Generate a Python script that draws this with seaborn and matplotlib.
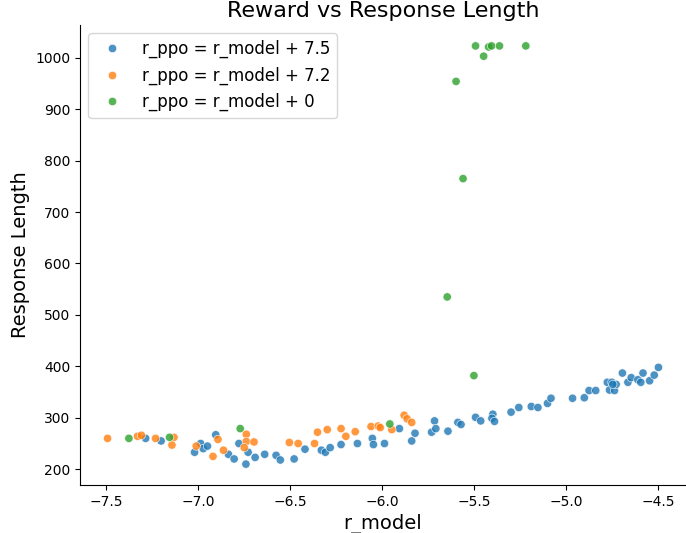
import numpy as np
import pandas as pd
import matplotlib
matplotlib.use("Agg")
import matplotlib.pyplot as plt
import seaborn as sns

labels = ["r_ppo = r_model + 7.5", "r_ppo = r_model + 7.2", "r_ppo = r_model + 0"]

# series: r_ppo = r_model + 7.5 (blue)
x_75 = [-7.286, -7.202, -7.020, -6.987, -6.973, -6.950, -6.905, -6.836, -6.805, -6.779,
        -6.729, -6.741, -6.691, -6.639, -6.577, -6.554, -6.479, -6.420, -6.331, -6.309,
        -6.283, -6.224, -6.135, -6.054, -6.048, -5.988, -5.907, -5.822, -5.840, -5.732,
        -5.716, -5.709, -5.643, -5.589, -5.572, -5.493, -5.465, -5.399, -5.404, -5.390,
        -5.300, -5.258, -5.190, -5.154, -5.102, -5.083, -4.966, -4.902, -4.876, -4.840,
        -4.777, -4.752, -4.765, -4.738, -4.729, -4.747, -4.695, -4.665, -4.647, -4.611,
        -4.595, -4.583, -4.547, -4.522, -4.499]
y_75 = [260, 255, 233, 250, 240, 245, 267, 229, 220, 250,
        233, 210, 223, 229, 227, 218, 220, 239, 237, 233,
        242, 248, 250, 260, 248, 250, 279, 270, 255, 272,
        294, 279, 274, 291, 287, 301, 294, 307, 299, 293,
        311, 320, 322, 320, 328, 338, 338, 339, 353, 353,
        369, 369, 354, 353, 365, 365, 387, 369, 378, 374,
        369, 387, 372, 383, 398]

# series: r_ppo = r_model + 7.2 (orange)
x_72 = [-7.493, -7.330, -7.309, -7.232, -7.132, -7.143, -7.011, -6.893, -6.920, -6.863,
        -6.739, -6.739, -6.697, -6.750, -6.505, -6.457, -6.368, -6.352, -6.299, -6.224,
        -6.198, -6.147, -6.061, -6.022, -6.011, -5.948, -5.881, -5.865, -5.840]
y_72 = [260, 264, 266, 260, 262, 247, 245, 258, 225, 237,
        268, 254, 253, 242, 252, 250, 250, 272, 277, 279,
        264, 273, 283, 284, 281, 277, 305, 298, 291]

# series: r_ppo = r_model + 0 (green)
x_0 = [-7.377, -7.156, -6.772, -5.959, -5.502, -5.647, -5.561, -5.599,
       -5.493, -5.449, -5.422, -5.406, -5.363, -5.220]
y_0 = [260, 262, 279, 288, 382, 535, 765, 954,
       1023, 1003, 1021, 1023, 1023, 1023]

df = pd.DataFrame({
    "r_model": x_75 + x_72 + x_0,
    "Response Length": y_75 + y_72 + y_0,
    "group": [labels[0]] * len(x_75) + [labels[1]] * len(x_72) + [labels[2]] * len(x_0),
})

fig = plt.figure(figsize=(6.86, 5.33), dpi=100)
ax = fig.add_axes([80 / 686, 1 - 485 / 533, 606 / 686, 460 / 533])
sns.scatterplot(data=df, x="r_model", y="Response Length", hue="group",
                hue_order=labels, palette=["#1f77b4", "#ff7f0e", "#2ca02c"],
                alpha=0.8, s=36, edgecolor="white", linewidth=0.5, ax=ax)
sns.despine(ax=ax)
ax.set_title("Reward vs Response Length", fontsize=16)
ax.set_xlabel("r_model", fontsize=14)
ax.set_ylabel("Response Length", fontsize=14)
ax.legend(loc="upper left", fontsize=12, title=None)
ax.set_xticks([-7.5, -7.0, -6.5, -6.0, -5.5, -5.0, -4.5])
ax.set_yticks([200, 300, 400, 500, 600, 700, 800, 900, 1000])
fig.savefig("out.png", dpi=100)
